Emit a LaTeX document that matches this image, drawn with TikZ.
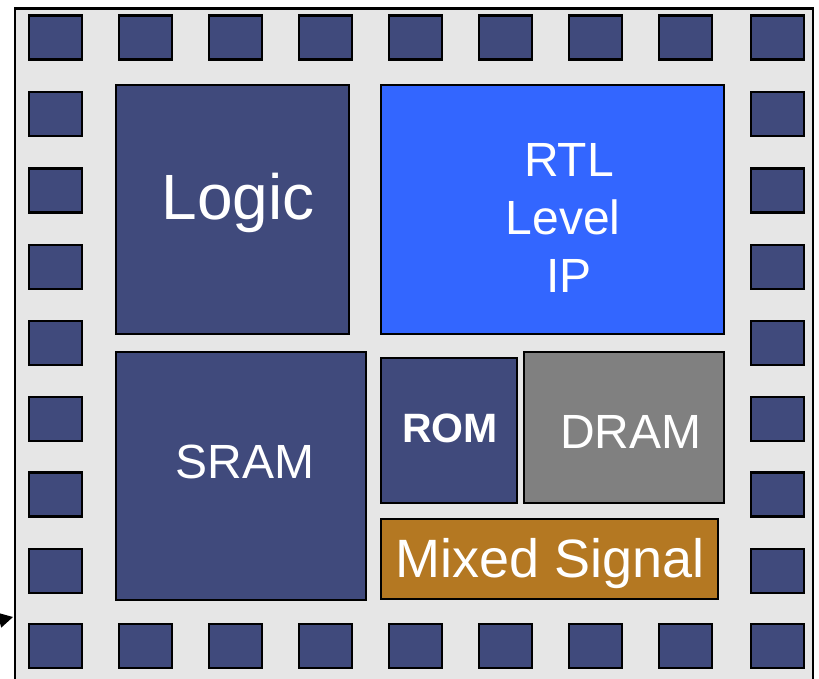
\documentclass[tikz,border=0pt]{standalone}
\usepackage{fontspec}
\setmainfont{Liberation Sans}
\usetikzlibrary{arrows.meta}
\definecolor{padblue}{RGB}{64,74,124}
\definecolor{rtlblue}{RGB}{51,102,255}
\definecolor{dramgray}{RGB}{128,128,128}
\definecolor{mixbrown}{RGB}{180,120,34}
\definecolor{diebg}{RGB}{230,230,230}
\tikzset{
  pad/.style={draw=black, line width=2.5pt, fill=padblue, minimum width=53pt, minimum height=44pt, inner sep=0pt, outer sep=0pt},
  block/.style={draw=black, line width=2pt, inner sep=0pt, outer sep=0pt},
  lbl/.style={text=white, inner sep=0pt, align=center}
}
\begin{document}
\begin{tikzpicture}[x=1pt,y=-1pt]
\useasboundingbox (0,0) rectangle (819,679);
% die outline
\node[draw=black, line width=2.5pt, fill=diebg, minimum width=798pt, minimum height=760pt, inner sep=0pt, anchor=north west] (die) at (13.5,7.5) {};
% top and bottom pad rows
\foreach \i/\x in {1/55.5,2/145.5,3/235.5,4/325.5,5/415.5,6/505.5,7/595.5,8/685.5,9/777.5}{
  \node[pad] (top\i) at (\x,37.5) {};
  \node[pad] (bot\i) at (\x,646) {};
}
% left and right pad columns
\foreach \j/\y in {1/114,2/190.5,3/267,4/343,5/419,6/494.5,7/571}{
  \node[pad] (left\j) at (55.5,\y) {};
  \node[pad] (right\j) at (777.5,\y) {};
}
% functional blocks
\node[block, fill=padblue, minimum width=233pt, minimum height=249pt] (logic) at (232.5,209.5) {};
\node[block, fill=rtlblue, minimum width=343pt, minimum height=249pt] (rtl) at (552.5,209.5) {};
\node[block, fill=padblue, minimum width=250pt, minimum height=248pt] (sram) at (241,476) {};
\node[block, fill=padblue, minimum width=136pt, minimum height=145pt] (rom) at (449,430.5) {};
\node[block, fill=dramgray, minimum width=200pt, minimum height=151pt] (dram) at (624,427.5) {};
\node[block, fill=mixbrown, minimum width=337pt, minimum height=80pt] (mixed) at (549.5,559) {};
% block labels
\node[lbl, font=\fontsize{64}{70}\selectfont] (logictxt) at ([shift={(5.5,-7)}]logic.center) {Logic};
\node[lbl, font=\fontsize{48}{58}\selectfont] (rtltxt) at ([shift={(16.5,8)}]rtl.center) {RTL\\Level\kern12pt\\IP};
\node[lbl, font=\fontsize{48}{52}\selectfont] (sramtxt) at ([shift={(4,-14)}]sram.center) {SRAM};
\node[lbl, font=\fontsize{41}{45}\selectfont\bfseries] (romtxt) at ([shift={(1,-2)}]rom.center) {ROM};
\node[lbl, font=\fontsize{48}{52}\selectfont] (dramtxt) at ([shift={(7,4)}]dram.center) {DRAM};
\node[lbl, font=\fontsize{54}{58}\selectfont] (mixedtxt) at ([shift={(0.5,5)}]mixed.center) {Mixed Signal};
% arrow entering the die edge
\coordinate (src) at (-8,622);
\coordinate (pin) at (13,617);
\draw[line width=1.5pt, -{Triangle[length=14pt,width=15pt]}] (src) -- (pin);
\end{tikzpicture}
\end{document}
